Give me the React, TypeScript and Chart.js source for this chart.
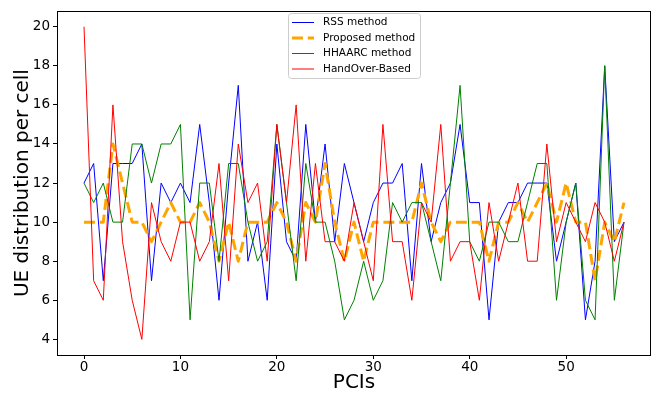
import React, { useEffect, useRef } from 'react';
import { Chart, registerables } from 'chart.js';

Chart.register(...registerables);

// ---- data ----
const pcis = [
  0, 1, 2, 3, 4, 5, 6, 7, 8, 9,
  10, 11, 12, 13, 14, 15, 16, 17, 18, 19,
  20, 21, 22, 23, 24, 25, 26, 27, 28, 29,
  30, 31, 32, 33, 34, 35, 36, 37, 38, 39,
  40, 41, 42, 43, 44, 45, 46, 47, 48, 49,
  50, 51, 52, 53, 54, 55, 56,
];

const rssValues = [
  12, 13, 7, 13, 13, 13, 14, 7, 12, 11,
  12, 11, 15, 11, 6, 12, 17, 8, 10, 6,
  14, 9, 8, 15, 10, 14, 9, 13, 11, 9,
  11, 12, 12, 13, 7, 13, 9, 11, 12, 15,
  11, 11, 5, 10, 11, 11, 12, 12, 12, 8,
  10, 12, 5, 8, 18, 9, 10,
];

const proposedValues = [
  10, 10, 10, 14, 12, 10, 10, 9, 10, 11,
  10, 10, 11, 10, 8, 10, 8, 10, 10, 10,
  11, 10, 8, 11, 10, 13, 10, 8, 10, 8,
  10, 10, 10, 10, 10, 12, 10, 9, 10, 10,
  10, 10, 8, 10, 10, 11, 10, 11, 12, 10,
  12, 10, 10, 7, 10, 9, 11,
];

const hhaarcValues = [
  12, 11, 12, 10, 10, 14, 14, 12, 14, 14,
  15, 5, 12, 12, 8, 13, 13, 10, 8, 9,
  15, 11, 7, 13, 10, 10, 8, 5, 6, 8,
  6, 7, 11, 10, 11, 11, 9, 7, 12, 17,
  9, 8, 10, 10, 9, 9, 11, 13, 13, 6,
  10, 12, 6, 5, 18, 6, 10,
];

const handoverValues = [
  20, 7, 6, 16, 9, 6, 4, 11, 9, 8,
  10, 10, 8, 9, 13, 7, 14, 11, 12, 8,
  15, 11, 16, 8, 13, 9, 9, 8, 11, 9,
  7, 15, 9, 9, 6, 11, 10, 15, 8, 9,
  9, 6, 11, 8, 10, 12, 8, 8, 14, 9,
  11, 10, 9, 11, 10, 8, 10,
];

const xTickValues = [0, 10, 20, 30, 40, 50];
const yTickValues = [4, 6, 8, 10, 12, 14, 16, 18, 20];

const seriesLabels = ['RSS method', 'Proposed method', 'HHAARC method', 'HandOver-Based'];

const FONT = "'DejaVu Sans', 'Liberation Sans', sans-serif";

function toPoints(values: number[]) {
  return pcis.map((x, i) => ({ x, y: values[i] }));
}

const framePlugin = {
  id: 'frameAndLegend',
  afterDraw(chart: any) {
    const { ctx, chartArea } = chart;
    const { left, top, right, bottom } = chartArea;
    ctx.save();
    // frame
    ctx.strokeStyle = '#000';
    ctx.lineWidth = 1;
    ctx.setLineDash([]);
    ctx.strokeRect(Math.round(left) + 0.5, Math.round(top) + 0.5, Math.round(right - left) - 1, Math.round(bottom - top));

    // legend
    const bx = 288.5, by = 13.5, bw = 132, bh = 65, r = 3;
    ctx.beginPath();
    ctx.moveTo(bx + r, by);
    ctx.lineTo(bx + bw - r, by);
    ctx.arcTo(bx + bw, by, bx + bw, by + r, r);
    ctx.lineTo(bx + bw, by + bh - r);
    ctx.arcTo(bx + bw, by + bh, bx + bw - r, by + bh, r);
    ctx.lineTo(bx + r, by + bh);
    ctx.arcTo(bx, by + bh, bx, by + bh - r, r);
    ctx.lineTo(bx, by + r);
    ctx.arcTo(bx, by, bx + r, by, r);
    ctx.closePath();
    ctx.fillStyle = 'rgba(255,255,255,0.8)';
    ctx.fill();
    ctx.strokeStyle = '#cccccc';
    ctx.lineWidth = 1;
    ctx.stroke();

    const rowY = [22.5, 38, 53.5, 69];
    const datasets = chart.data.datasets;
    ctx.font = `10.5px ${FONT}`;
    ctx.textBaseline = 'middle';
    ctx.textAlign = 'left';
    datasets.forEach((ds: any, i: number) => {
      const y = rowY[i];
      ctx.beginPath();
      ctx.strokeStyle = ds.borderColor;
      ctx.lineWidth = ds.borderWidth;
      ctx.setLineDash(ds.borderDash || []);
      ctx.lineCap = 'butt';
      ctx.moveTo(292, y);
      ctx.lineTo(314, y);
      ctx.stroke();
      ctx.setLineDash([]);
      ctx.fillStyle = '#000';
      ctx.fillText(ds.label, 323, y);
    });
    ctx.restore();
  },
};

export default function App() {
  const canvasRef = useRef<HTMLCanvasElement | null>(null);

  useEffect(() => {
    document.body.style.margin = '0';
    const canvas = canvasRef.current;
    if (!canvas) return;

    const tickFont = { family: FONT, size: 13.5 };

    const chart = new Chart(canvas, {
      type: 'line',
      data: {
        datasets: [
          {
            label: seriesLabels[0],
            data: toPoints(rssValues),
            borderColor: '#0000ff',
            borderWidth: 1,
            order: 4,
          },
          {
            label: seriesLabels[1],
            data: toPoints(proposedValues),
            borderColor: '#ffa500',
            borderWidth: 3,
            borderDash: [11, 4.8],
            order: 3,
          },
          {
            label: seriesLabels[2],
            data: toPoints(hhaarcValues),
            borderColor: '#008000',
            borderWidth: 1,
            order: 2,
          },
          {
            label: seriesLabels[3],
            data: toPoints(handoverValues),
            borderColor: '#ff0000',
            borderWidth: 1,
            order: 1,
          },
        ] as any,
      },
      options: {
        animation: false,
        responsive: false,
        devicePixelRatio: 1,
        layout: { padding: { left: 0, right: 10, top: 9, bottom: 0 } },
        elements: {
          point: { radius: 0, hoverRadius: 0 },
          line: { tension: 0, fill: false, borderCapStyle: 'butt', borderJoinStyle: 'round' },
        },
        plugins: {
          legend: { display: false },
          tooltip: { enabled: false },
        },
        scales: {
          x: {
            type: 'linear',
            min: -2.8,
            max: 58.8,
            afterBuildTicks: (axis: any) => {
              axis.ticks = xTickValues.map((v) => ({ value: v }));
            },
            afterFit: (scale: any) => {
              scale.height = 38;
            },
            grid: { display: true, drawOnChartArea: false, drawTicks: true, tickLength: 4, color: '#000', lineWidth: 1 },
            border: { display: false },
            ticks: {
              autoSkip: false,
              maxRotation: 0,
              padding: 0,
              color: '#000',
              font: tickFont,
              callback: (v: any) => String(v),
            },
            title: {
              display: true,
              text: 'PCIs',
              color: '#000',
              font: { family: FONT, size: 20, lineHeight: 1 },
              padding: { top: 0, bottom: 0 },
            },
          },
          y: {
            type: 'linear',
            min: 3.2,
            max: 20.8,
            afterBuildTicks: (axis: any) => {
              axis.ticks = yTickValues.map((v) => ({ value: v }));
            },
            afterFit: (scale: any) => {
              scale.width = 57;
            },
            grid: { display: true, drawOnChartArea: false, drawTicks: true, tickLength: 4, color: '#000', lineWidth: 1 },
            border: { display: false },
            ticks: {
              autoSkip: false,
              padding: 3,
              color: '#000',
              font: tickFont,
              callback: (v: any) => String(v),
            },
            title: {
              display: true,
              text: 'UE distribution per cell',
              color: '#000',
              font: { family: FONT, size: 20, lineHeight: 1.2 },
              padding: { top: 11, bottom: 0 },
            },
          },
        },
      } as any,
      plugins: [framePlugin],
    });

    return () => {
      chart.destroy();
    };
  }, []);

  return (
    <div style={{ position: 'absolute', left: 0, top: 0, width: 661, height: 393 }}>
      <canvas ref={canvasRef} width={661} height={393} style={{ display: 'block' }} />
    </div>
  );
}
